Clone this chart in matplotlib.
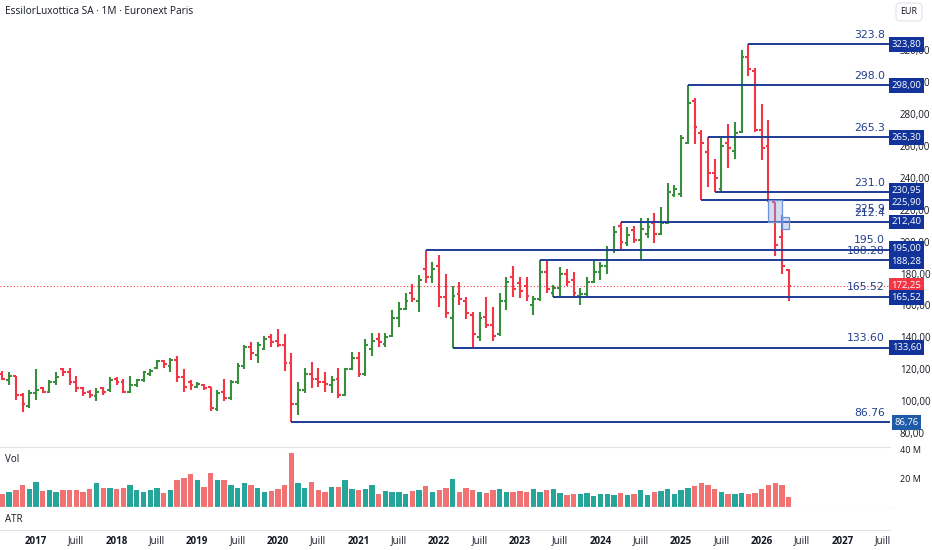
import numpy as np
import pandas as pd
import matplotlib
matplotlib.use("Agg")
import matplotlib.pyplot as plt
from matplotlib.patches import Rectangle
from matplotlib.transforms import blended_transform_factory

plt.rcParams['font.family'] = ['Open Sans', 'DejaVu Sans']

# monthly bars, Aug 2016 -> May 2026
months = pd.period_range('2016-08', '2026-05', freq='M')

opens = [117, 113, 116, 104, 97,
         105, 108, 106, 112, 120, 118, 112, 108, 106, 103, 108, 107,
         114, 112, 106, 110, 113, 117, 121, 125, 122, 126, 115, 112,
         109, 110, 109, 95, 106, 102, 112, 122, 134, 129, 133, 140,
         138, 135, 124, 98, 107, 117, 114, 112, 110, 114, 104, 120,
         127, 117, 133, 139, 136, 141, 152, 158, 168, 163, 183, 178,
         185, 165, 152, 167, 163, 154, 140, 153, 148, 142, 163, 178,
         174, 172, 160, 164, 181, 168, 171, 180, 176, 166, 167, 175,
         181, 185, 195, 210, 199, 207, 201, 205, 212, 205, 212, 229,
         230, 262, 288, 268, 256, 243, 233, 262, 257, 269, 316, 307,
         270, 260, 225, 203, 182]
highs = [119, 118, 116, 105, 107,
         120, 109, 113, 118, 121, 121, 116, 109, 107, 108, 109, 115,
         115, 114, 116, 114, 119, 120, 126, 126, 127, 128, 120, 113,
         112, 111, 109, 107, 114, 113, 124, 135, 137, 137, 141, 142,
         145, 142, 130, 112, 120.5, 124.7, 121, 118, 116, 121, 121, 131,
         131, 139, 142.5, 142.5, 143, 157, 162, 167.5, 173.6, 179, 195.0, 187.5,
         191.5, 180, 172, 175, 165, 156, 156, 165, 159, 168, 178, 185,
         178, 178, 166, 188.28, 188, 173, 184, 183, 181, 171, 178, 188,
         187, 197, 210, 212.4, 209, 210, 215, 215, 218, 222, 237, 235.5,
         267, 298.0, 290, 270, 265.3, 252, 265, 274, 275, 320, 323.8, 309,
         286, 276, 225, 217, 182.6]
lows = [113, 110, 101, 93, 96,
        101, 105, 105, 110, 116, 110, 106, 103, 102, 100, 104, 106,
        110, 105, 105, 109, 112, 116, 120, 121, 118, 112, 106, 107,
        108, 107, 94, 94, 100, 101, 111, 120, 126, 124, 132, 134,
        134, 119, 86.76, 91, 105, 108.3, 109, 106, 105, 102, 103, 119.5,
        115, 116, 128, 134, 134, 140, 146.7, 157, 162, 156, 174, 174,
        159.3, 152, 133.6, 160, 151.5, 134, 138, 146, 138, 141, 157, 165,
        164.5, 163, 154, 163, 168, 165.52, 166, 172, 166, 160, 166, 174,
        176, 180, 193, 194, 197, 199, 188.28, 202, 199, 204, 211, 228,
        228, 261, 261, 225.9, 234, 230.95, 231.5, 246, 252, 268, 304, 269,
        251, 225, 190.7, 180, 162.7]
closes = [114, 116, 104, 98, 105,
          107, 106, 112, 115, 118, 112, 108, 105, 104, 106, 106, 113,
          112, 106, 110, 113, 118, 119, 125, 123, 126, 115, 109, 110,
          110.5, 108, 96, 105, 102, 112, 122, 134, 130, 135, 139, 137,
          135, 124, 98, 107, 117, 114, 112, 111, 113, 104, 120, 127,
          117, 135, 138, 137, 140, 152, 158, 163, 164, 176, 178, 183,
          165, 155, 166, 164, 155, 142, 152, 148, 141, 163, 175, 170,
          169, 166, 164, 181, 170, 171, 180, 175, 168, 167, 175, 181,
          185, 195, 206, 200, 204, 201, 208, 209, 205, 212, 231, 233,
          265, 287, 272, 262, 243, 240, 260, 259, 268, 316, 308, 270,
          259, 226, 198, 185, 172.25]

# volume in millions
volumes = [8.8, 10.2, 11.9, 15.2, 12.6,
           17.6, 11.2, 12.1, 10.7, 11.7, 12.1, 12.1, 10.7, 12.6, 16.7, 13.1, 13.1,
           12.6, 13.6, 15.7, 11.7, 10.7, 11.7, 13.1, 9.8, 12.1, 19.0, 20.5, 23.3,
           18.6, 14.0, 23.8, 18.6, 19.0, 15.2, 13.6, 17.1, 15.7, 13.6, 10.7, 11.2,
           12.6, 15.7, 38.1, 16.7, 13.1, 17.6, 12.1, 10.7, 14.0, 14.0, 19.0, 12.6,
           12.1, 12.6, 15.2, 9.3, 11.2, 10.7, 10.2, 8.8, 11.2, 11.7, 14.8, 10.2,
           12.1, 13.6, 19.5, 10.7, 13.1, 11.9, 10.2, 9.5, 11.9, 12.6, 10.2, 10.7,
           11.2, 10.7, 12.6, 10.2, 11.7, 12.6, 9.8, 8.3, 9.3, 9.3, 9.8, 7.9,
           8.8, 8.8, 8.3, 9.8, 8.3, 8.8, 11.7, 8.3, 10.7, 11.2, 12.6, 8.8,
           12.1, 13.6, 14.8, 16.7, 15.7, 12.6, 10.2, 8.8, 9.3, 9.8, 8.8, 9.8,
           12.6, 15.7, 16.7, 15.7, 7.1]

# horizontal rays drawn on the chart
levels = [323.8, 298.0, 265.3, 230.95, 225.9, 212.4, 195.0, 188.28, 165.52, 133.6, 86.76]
level_text = ['323.8', '298.0', '265.3', '231.0', '225.9', '212.4', '195.0',
              '188.28', '165.52', '133.60', '86.76']
level_start = ['2025-11', '2025-02', '2025-05', '2025-06', '2025-04', '2024-04',
               '2021-11', '2023-04', '2023-06', '2022-03', '2020-03']
level_box = ['323,80', '298,00', '265,30', '230,95', '225,90', '212,40', '195,00',
             '188,28', '165,52', '133,60', '86,76']
last_price = 172.25

# two small rectangles drawn near the last bars
zones = [('2026-02', '2026-04', 212.4, 225.9), ('2026-04', '2026-05', 208.1, 215.4)]

years = list(range(2017, 2028))


def mpos(p):
    p = pd.Period(p, freq='M')
    return (p.year - 2017) * 12 + p.month - 1


xs = np.array([(p.year - 2017) * 12 + p.month - 1 for p in months])
up = np.array(closes) >= np.array(opens)

W, H = 932, 550
fig = plt.figure(figsize=(W / 100, H / 100), dpi=100)


def box(x0, y0, x1, y1):
    return [x0 / W, 1 - y1 / H, (x1 - x0) / W, (y1 - y0) / H]


ax = fig.add_axes(box(0, 0, 890, 445))
axv = fig.add_axes(box(0, 447, 890, 507))
axa = fig.add_axes(box(0, 507, 890, 530))

xlim = (-36 / 6.72, (890 - 36) / 6.72)
for a in (ax, axv, axa):
    a.set_xlim(*xlim)
    for s in a.spines.values():
        s.set_visible(False)

GREEN = '#388e3c'
RED = '#f23645'
NAVY = '#1e3c96'

# OHLC bars
cols = [GREEN if u else RED for u in up]
ax.vlines(xs, lows, highs, colors=cols, lw=1.5, zorder=3)
ax.hlines(opens, xs - 0.42, xs, colors=cols, lw=1.5, zorder=3)
ax.hlines(closes, xs, xs + 0.42, colors=cols, lw=1.5, zorder=3)

ax.set_ylim(72.5, 351.5)
ax.axhline(last_price, color=RED, lw=0.8, ls=(0, (1, 2)), zorder=2)

# rays with their labels
for lv, txt, st in zip(levels, level_text, level_start):
    ax.hlines(lv, mpos(st), xlim[1], color=NAVY, lw=1.4, zorder=4)
    below = txt == '225.9'
    ax.annotate(txt, (126.3, lv), xytext=(0, -2.5 if below else 3), textcoords='offset points',
                ha='right', va='top' if below else 'bottom', fontsize=7.8,
                color='#23408e', family='DejaVu Sans', zorder=5)

for a, b, lo, hi in zones:
    ax.add_patch(Rectangle((mpos(a), lo), mpos(b) - mpos(a), hi - lo,
                           fc=(0.55, 0.66, 0.9, 0.4), ec='#6f8fd6', lw=0.9, zorder=5))

# price scale
ax.yaxis.tick_right()
ax.set_yticks(range(80, 340, 20))
ax.set_yticklabels(['{:.2f}'.format(v).replace('.', ',') for v in range(80, 340, 20)])
ax.tick_params(axis='y', length=0, pad=7, labelsize=7, labelcolor='#131722')
ax.set_xticks([])

# axis boxes, spread apart when they collide
tags = [(lv, lab, '#1f5ba6' if lab == '86,76' else '#12349a') for lv, lab in zip(levels, level_box)]
tags.append((last_price, '{:.2f}'.format(last_price).replace('.', ','), RED))
tags.sort(key=lambda t: -t[0])
ypos = [t[0] for t in tags]
gap = 12.5 / 1.595
for _ in range(5):
    for i in range(len(ypos) - 1):
        d = ypos[i] - ypos[i + 1]
        if d < gap:
            ypos[i] += (gap - d) / 2
            ypos[i + 1] -= (gap - d) / 2
tr = blended_transform_factory(fig.transFigure, ax.transData)
for (lv, lab, fc), yp in zip(tags, ypos):
    ax.text(906.5 / W, yp, lab, transform=tr, ha='center', va='center', fontsize=6.8,
            color='white', clip_on=False, zorder=10,
            bbox=dict(boxstyle='square,pad=0.3', fc=fc, ec='none'))

# volume pane
vcols = ['#26a69a' if u else '#f07272' for u in up]
axv.bar(xs, volumes, width=0.8, color=vcols)
axv.set_ylim(0, 42.1)
axv.yaxis.tick_right()
axv.set_yticks([20, 40])
axv.set_yticklabels(['20 M', '40 M'])
axv.tick_params(axis='y', length=0, pad=7, labelsize=6.5, labelcolor='#131722')
axv.set_xticks([])
for s in ('top', 'bottom'):
    axv.spines[s].set_visible(True)
    axv.spines[s].set_color('#e0e3eb')

# ATR pane + time scale
axa.set_yticks([])
axa.spines['bottom'].set_visible(True)
axa.spines['bottom'].set_color('#e0e3eb')
tpos, tlab = [], []
for y in years:
    tpos += [(y - 2017) * 12, (y - 2017) * 12 + 6]
    tlab += [str(y), 'Juill']
axa.set_xticks(tpos)
axa.set_xticklabels(tlab)
axa.tick_params(axis='x', length=0, pad=4, labelsize=7, labelcolor='#131722')
for t in axa.get_xticklabels():
    if t.get_text() != 'Juill':
        t.set_fontweight('bold')

fig.text(5 / W, 1 - 11 / H, 'EssilorLuxottica SA · 1M · Euronext Paris', fontsize=7.3,
         va='center', color='#131722')
fig.text(5 / W, 1 - 459 / H, 'Vol', fontsize=7, va='center', color='#131722')
fig.text(5 / W, 1 - 519 / H, 'ATR', fontsize=7, va='center', color='#131722')
fig.text(909 / W, 1 - 12 / H, 'EUR', fontsize=6.5, ha='center', va='center', color='#131722',
         bbox=dict(boxstyle='round,pad=0.5', fc='white', ec='#e0e3eb', lw=0.8))

fig.savefig('out.png', dpi=100)
